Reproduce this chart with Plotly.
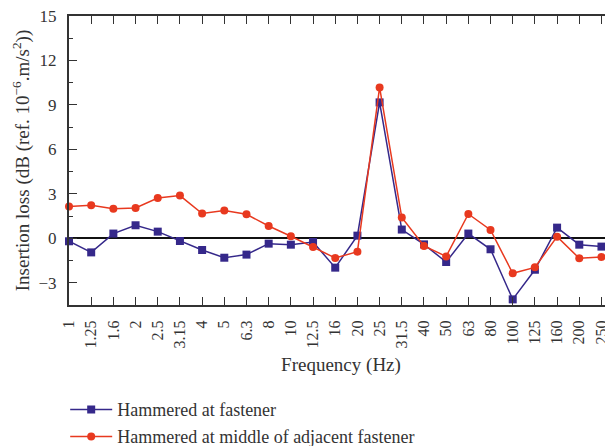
import plotly.graph_objects as go

freq_labels = ["1", "1.25", "1.6", "2", "2.5", "3.15", "4", "5", "6.3", "8", "10",
               "12.5", "16", "20", "25", "31.5", "40", "50", "63", "80", "100",
               "125", "160", "200", "250"]

hammered_fastener = [-0.2, -0.95, 0.32, 0.88, 0.45, -0.18, -0.79, -1.31, -1.1, -0.36, -0.43,
                     -0.25, -1.98, 0.18, 9.17, 0.59, -0.41, -1.6, 0.32, -0.74, -4.12,
                     -2.12, 0.72, -0.43, -0.56]
hammered_middle = [2.14, 2.23, 2.0, 2.05, 2.72, 2.88, 1.67, 1.87, 1.62, 0.83, 0.14,
                   -0.59, -1.33, -0.9, 10.18, 1.4, -0.52, -1.22, 1.64, 0.56, -2.36,
                   -1.96, 0.11, -1.35, -1.26]

y_ticks = [-3, 0, 3, 6, 9, 12, 15]
y_ticktext = ["\u22123", "0", "3", "6", "9", "12", "15"]

BLUE = "#35288a"
RED = "#e8391f"
AX = "#333333"
FONT = "Liberation Serif"

fig = go.Figure()
fig.add_trace(go.Scatter(
    x=freq_labels, y=hammered_fastener, mode="lines+markers",
    name="Hammered at fastener",
    line=dict(color=BLUE, width=1.5),
    marker=dict(symbol="square", size=8, color=BLUE),
    cliponaxis=False, legend="legend"))
fig.add_trace(go.Scatter(
    x=freq_labels, y=hammered_middle, mode="lines+markers",
    name="Hammered at middle of adjacent fastener",
    line=dict(color=RED, width=1.5),
    marker=dict(symbol="circle", size=8, color=RED),
    cliponaxis=False, legend="legend2"))
# invisible trace to activate the right-hand tick axis
fig.add_trace(go.Scatter(x=[freq_labels[0]], y=[None], yaxis="y2", showlegend=False,
                         hoverinfo="skip"))

fig.update_layout(
    width=605, height=446,
    margin=dict(l=61, r=0, t=8, b=149, autoexpand=False),
    paper_bgcolor="white", plot_bgcolor="white",
    font=dict(family=FONT, size=18, color=AX),
    xaxis=dict(
        type="category", categoryorder="array", categoryarray=freq_labels,
        range=[0, 24.52], automargin=False, ticklabeloverflow="allow",
        tickangle=-90, ticks="inside", ticklen=8, tickwidth=1.2, tickcolor=AX,
        ticklabelstandoff=7,
        showline=True, linecolor=AX, linewidth=2, mirror="ticks",
        showgrid=False, zeroline=False,
        title=dict(text="Frequency (Hz)", font=dict(size=19), standoff=10),
        tickfont=dict(size=16),
    ),
    yaxis=dict(
        range=[-4.5, 15], tickvals=y_ticks, ticktext=y_ticktext, automargin=False,
        ticklabeloverflow="allow",
        ticks="inside", ticklen=8, tickwidth=1.2, tickcolor=AX,
        ticklabelstandoff=7,
        minor=dict(ticks="inside", ticklen=4, tickwidth=1, tickcolor=AX, dtick=1.5, tick0=0),
        showline=True, linecolor=AX, linewidth=2, mirror=True,
        showgrid=False, zeroline=True, zerolinecolor="#111111", zerolinewidth=1.5,
        title=dict(text="Insertion loss (dB (ref. 10<sup>\u22126</sup>.m/s<sup>2</sup>))",
                   font=dict(size=19), standoff=4),
        tickfont=dict(size=17),
    ),
    yaxis2=dict(
        overlaying="y", side="right", range=[-4.5, 15], tickvals=y_ticks,
        showticklabels=False, ticks="inside", ticklen=6, tickwidth=1.2, tickcolor=AX,
        showgrid=False, zeroline=False, showline=False, automargin=False,
    ),
    legend=dict(x=-0.007, y=-0.3622, xanchor="left", yanchor="middle", itemwidth=42,
                font=dict(size=18, color=AX), bgcolor="rgba(0,0,0,0)"),
    legend2=dict(x=-0.007, y=-0.4557, xanchor="left", yanchor="middle", itemwidth=42,
                 font=dict(size=18, color=AX), bgcolor="rgba(0,0,0,0)"),
)

fig.write_html("out.html")
